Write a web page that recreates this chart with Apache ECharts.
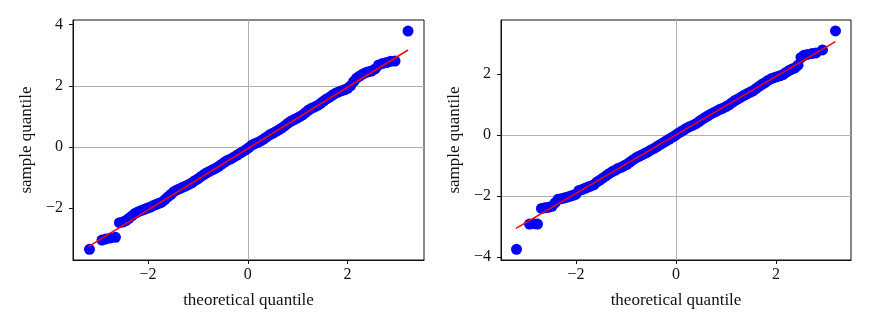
<!DOCTYPE html>
<html>
<head>
<meta charset="utf-8">
<script src="https://cdn.jsdelivr.net/npm/echarts@6/dist/echarts.min.js"></script>
<style>
  html, body { margin: 0; padding: 0; background: #fff; }
  #chart { width: 872px; height: 327px; }
</style>
</head>
<body>
<div id="chart"></div>
<script>
// left panel: theoretical vs sample quantiles
const leftTheo = [-3.17, -2.92, -2.84, -2.75, -2.65, -2.57, -2.50, -2.44, -2.38, -2.32, -2.26, -2.20, -2.14, -2.08, -2.02,
  -1.96, -1.90, -1.84, -1.78, -1.72, -1.66, -1.60, -1.54, -1.48, -1.42, -1.36, -1.30, -1.24, -1.18, -1.12, -1.06, -1.00,
  -0.94, -0.88, -0.82, -0.76, -0.70, -0.64, -0.58, -0.52, -0.46, -0.40, -0.34, -0.28, -0.22, -0.16, -0.10, -0.04,
  0.02, 0.08, 0.14, 0.20, 0.26, 0.32, 0.38, 0.44, 0.50, 0.56, 0.62, 0.68, 0.74, 0.80, 0.86, 0.92, 0.98,
  1.04, 1.10, 1.16, 1.22, 1.28, 1.34, 1.40, 1.46, 1.52, 1.58, 1.64, 1.70, 1.76, 1.82, 1.88, 1.94,
  2.00, 2.06, 2.12, 2.18, 2.24, 2.30, 2.36, 2.42, 2.48, 2.55, 2.62, 2.70, 2.78, 2.86, 2.95, 3.21];
const leftSample = [-3.34, -3.04, -3.00, -2.97, -2.95, -2.47, -2.45, -2.40, -2.33, -2.25, -2.17, -2.12, -2.08, -2.04, -2.00,
  -1.97, -1.92, -1.88, -1.84, -1.80, -1.72, -1.63, -1.55, -1.46, -1.40, -1.36, -1.31, -1.27, -1.22, -1.17, -1.10, -1.04,
  -0.97, -0.90, -0.84, -0.79, -0.74, -0.69, -0.63, -0.56, -0.49, -0.43, -0.39, -0.33, -0.27, -0.21, -0.15, -0.09,
  -0.02, 0.06, 0.11, 0.15, 0.20, 0.26, 0.33, 0.40, 0.45, 0.50, 0.56, 0.62, 0.69, 0.77, 0.84, 0.89, 0.94,
  0.99, 1.05, 1.13, 1.21, 1.27, 1.31, 1.36, 1.43, 1.50, 1.57, 1.63, 1.70, 1.76, 1.80, 1.84, 1.87,
  1.92, 2.00, 2.14, 2.25, 2.32, 2.38, 2.43, 2.46, 2.48, 2.55, 2.68, 2.73, 2.76, 2.80, 2.81, 3.79];
const leftFitX = [-3.19, 3.21];
const leftFitY = [-3.25, 3.17];

// right panel
const rightTheo = [-3.19, -2.93, -2.84, -2.77, -2.69, -2.62, -2.55, -2.48, -2.42, -2.36, -2.30, -2.24, -2.18, -2.12, -2.06,
  -2.00, -1.94, -1.88, -1.82, -1.76, -1.70, -1.64, -1.58, -1.52, -1.46, -1.40, -1.34, -1.28, -1.22, -1.16, -1.10, -1.04,
  -0.98, -0.92, -0.86, -0.80, -0.74, -0.68, -0.62, -0.56, -0.50, -0.44, -0.38, -0.32, -0.26, -0.20, -0.14, -0.08, -0.02,
  0.04, 0.10, 0.16, 0.22, 0.28, 0.34, 0.40, 0.46, 0.52, 0.58, 0.64, 0.70, 0.76, 0.82, 0.88, 0.94,
  1.00, 1.06, 1.12, 1.18, 1.24, 1.30, 1.36, 1.42, 1.48, 1.54, 1.60, 1.66, 1.72, 1.78, 1.84, 1.90, 1.96,
  2.02, 2.08, 2.14, 2.20, 2.26, 2.32, 2.38, 2.44, 2.50, 2.56, 2.63, 2.72, 2.80, 2.93, 3.19];
const rightSample = [-3.74, -2.91, -2.90, -2.91, -2.40, -2.38, -2.36, -2.33, -2.22, -2.10, -2.08, -2.06, -2.03, -2.00, -1.97,
  -1.93, -1.81, -1.78, -1.74, -1.70, -1.66, -1.62, -1.53, -1.47, -1.40, -1.33, -1.26, -1.20, -1.15, -1.09, -1.05, -1.00,
  -0.95, -0.88, -0.81, -0.74, -0.69, -0.64, -0.59, -0.54, -0.48, -0.43, -0.37, -0.31, -0.25, -0.19, -0.13, -0.07, -0.01,
  0.06, 0.12, 0.18, 0.24, 0.29, 0.33, 0.38, 0.45, 0.52, 0.58, 0.64, 0.70, 0.75, 0.80, 0.85, 0.89,
  0.94, 1.00, 1.07, 1.14, 1.19, 1.25, 1.31, 1.36, 1.41, 1.46, 1.53, 1.60, 1.67, 1.73, 1.80, 1.85, 1.89,
  1.92, 1.95, 1.99, 2.06, 2.12, 2.17, 2.21, 2.30, 2.55, 2.62, 2.65, 2.68, 2.70, 2.80, 3.42];
const rightFitX = [-3.20, 3.19];
const rightFitY = [-3.05, 3.07];

const tickValues = [-4, -2, 0, 2, 4];
const xLabel = 'theoretical quantile';
const yLabel = 'sample quantile';

const font = 'Liberation Serif';

function pairs(xs, ys) {
  return xs.map((x, i) => [x, ys[i]]);
}

function fmt(v) {
  return v < 0 ? '\u2212' + Math.abs(v) : String(v);
}

function xAxisFor(idx, min, max) {
  const ticks = tickValues.filter(v => v > min && v < max);
  return {
    type: 'value', gridIndex: idx, min: min, max: max,
    minInterval: 2, maxInterval: 2,
    name: xLabel, nameLocation: 'middle', nameGap: 32,
    nameTextStyle: { fontFamily: font, fontSize: 17, color: '#111' },
    axisLine: { onZero: false, lineStyle: { color: '#111', width: 1 } },
    axisTick: { show: true, length: 4, customValues: ticks, lineStyle: { color: '#111' } },
    axisLabel: { fontFamily: font, fontSize: 16, color: '#111', margin: 7, formatter: fmt, customValues: ticks },
    splitLine: { show: true, showMinLine: false, showMaxLine: false, lineStyle: { color: '#b0b0b0', width: 1 } }
  };
}

function yAxisFor(idx, min, max) {
  const ticks = tickValues.filter(v => v > min && v < max);
  return {
    type: 'value', gridIndex: idx, min: min, max: max,
    minInterval: 2, maxInterval: 2,
    name: yLabel, nameLocation: 'middle', nameGap: 38, nameRotate: 90,
    nameTextStyle: { fontFamily: font, fontSize: 17, color: '#111' },
    axisLine: { show: true, onZero: false, lineStyle: { color: '#111', width: 1 } },
    axisTick: { show: true, length: 4, customValues: ticks, lineStyle: { color: '#111' } },
    axisLabel: { fontFamily: font, fontSize: 16, color: '#111', margin: 10, formatter: fmt, customValues: ticks },
    splitLine: { show: true, showMinLine: false, showMaxLine: false, lineStyle: { color: '#b0b0b0', width: 1 } }
  };
}

const chart = echarts.init(document.getElementById('chart'), null, { renderer: 'canvas' });
chart.setOption({
  animation: false,
  backgroundColor: '#fff',
  grid: [
    { left: 73, top: 20, width: 351, height: 240, show: true, borderColor: '#111', borderWidth: 1, backgroundColor: 'transparent' },
    { left: 501, top: 20, width: 350, height: 240, show: true, borderColor: '#111', borderWidth: 1, backgroundColor: 'transparent' }
  ],
  xAxis: [xAxisFor(0, -3.5, 3.53), xAxisFor(1, -3.5, 3.5)],
  yAxis: [yAxisFor(0, -3.69, 4.15), yAxisFor(1, -4.09, 3.78)],
  series: [
    { type: 'scatter', xAxisIndex: 0, yAxisIndex: 0, symbolSize: 11, itemStyle: { color: '#0000ff', opacity: 1 },
      data: pairs(leftTheo, leftSample) },
    { type: 'line', xAxisIndex: 0, yAxisIndex: 0, showSymbol: false, z: 5, lineStyle: { color: '#ff0000', width: 1.5 },
      data: pairs(leftFitX, leftFitY) },
    { type: 'scatter', xAxisIndex: 1, yAxisIndex: 1, symbolSize: 11, itemStyle: { color: '#0000ff', opacity: 1 },
      data: pairs(rightTheo, rightSample) },
    { type: 'line', xAxisIndex: 1, yAxisIndex: 1, showSymbol: false, z: 5, lineStyle: { color: '#ff0000', width: 1.5 },
      data: pairs(rightFitX, rightFitY) }
  ]
});
</script>
</body>
</html>
